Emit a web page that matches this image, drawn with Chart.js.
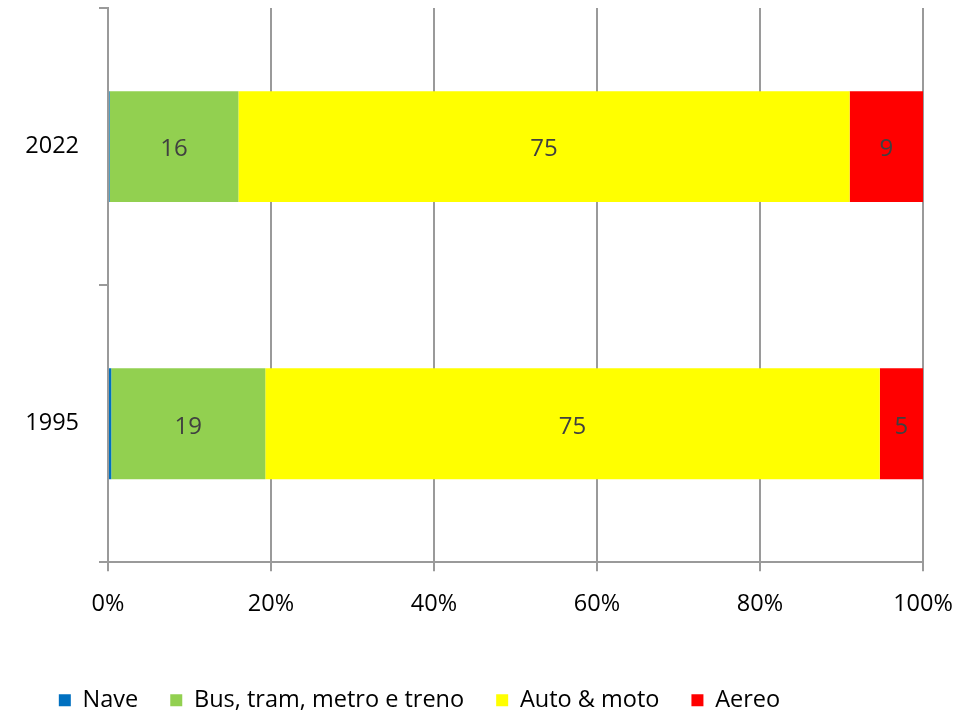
<!DOCTYPE html>
<html>
<head>
<meta charset="utf-8">
<script src="https://cdn.jsdelivr.net/npm/chart.js@4/dist/chart.umd.min.js"></script>
<style>
    html, body { margin: 0; padding: 0; background: #fff; }
    #chart_wrap { width: 975px; height: 711px; }
</style>
</head>
<body>
<div id="chart_wrap"><canvas id="modal_split_chart"></canvas></div>
<script>
// ---------------- DATA -----------------
const years = ["2022", "1995"];
const nave = [0.2, 0.4];
const busTram = [15.8, 18.9];
const autoMoto = [75.0, 75.4];
const aereo = [9.0, 5.3];
const xTicks = [0, 20, 40, 60, 80, 100];

const FONT = "'Open Sans', 'Noto Sans', sans-serif";
const GRID = "#9a9a9a";

// ----------- HELPERS -------------
// draws the rounded value in the middle of each segment
const segmentLabels = {
    id: "segmentLabels",
    afterDatasetsDraw(chart) {
        const ctx = chart.ctx;
        ctx.save();
        ctx.font = `24px ${FONT}`;
        ctx.fillStyle = "#404040";
        ctx.textAlign = "center";
        ctx.textBaseline = "middle";
        chart.data.datasets.forEach((ds, i) => {
            const meta = chart.getDatasetMeta(i);
            meta.data.forEach((bar, j) => {
                const v = ds.data[j];
                if (v < 2) return;
                const { x, base, y } = bar.getProps(["x", "base", "y"], true);
                ctx.fillText(Math.round(v), (x + base) / 2, y + 3);
            });
        });
        ctx.restore();
    },
};

// legend sits a bit left of centre in the original
const legendShift = {
    id: "legendShift",
    afterLayout(chart) {
        if (chart.legend) chart.legend.right = 839;
    },
};

// -------------- CHART --------------
new Chart(document.getElementById("modal_split_chart"), {
    type: "bar",
    data: {
        labels: years,
        datasets: [
            { label: "Nave", data: nave, backgroundColor: "#0070c0" },
            { label: "Bus, tram, metro e treno", data: busTram, backgroundColor: "#92d050" },
            { label: "Auto & moto", data: autoMoto, backgroundColor: "#ffff00" },
            { label: "Aereo", data: aereo, backgroundColor: "#ff0000" },
        ],
    },
    options: {
        indexAxis: "y",
        responsive: true,
        maintainAspectRatio: false,
        animation: false,
        datasets: {
            bar: { barPercentage: 0.4, categoryPercentage: 1, borderWidth: 0 },
        },
        layout: { padding: { top: 8, right: 52, left: 0, bottom: -11 } },
        plugins: {
            tooltip: { enabled: false },
            legend: {
                position: "bottom",
                labels: {
                    boxWidth: 12,
                    boxHeight: 12,
                    padding: 32,
                    color: "#000",
                    font: { family: FONT, size: 23.5 },
                },
            },
        },
        scales: {
            x: {
                stacked: true,
                min: 0,
                max: 100,
                afterBuildTicks: (scale) => {
                    scale.ticks = xTicks.map((v) => ({ value: v }));
                },
                afterFit: (scale) => { scale.height += 19; },
                ticks: {
                    color: "#000",
                    padding: 19,
                    font: { family: FONT, size: 23.5 },
                    callback: (v) => v + "%",
                },
                grid: { color: GRID, lineWidth: 2, tickLength: 9 },
                border: { display: true, color: GRID, width: 2 },
            },
            y: {
                stacked: true,
                afterFit: (scale) => {
                    scale.width = 108;
                    scale.paddingTop = 0;
                    scale.paddingBottom = 0;
                },
                ticks: {
                    color: "#000",
                    padding: 20,
                    font: { family: FONT, size: 23.5 },
                },
                grid: {
                    offset: true,
                    drawOnChartArea: false,
                    color: GRID,
                    lineWidth: 2,
                    tickLength: 9,
                },
                border: { display: true, color: GRID, width: 2 },
            },
        },
    },
    plugins: [segmentLabels, legendShift],
});
</script>
</body>
</html>
